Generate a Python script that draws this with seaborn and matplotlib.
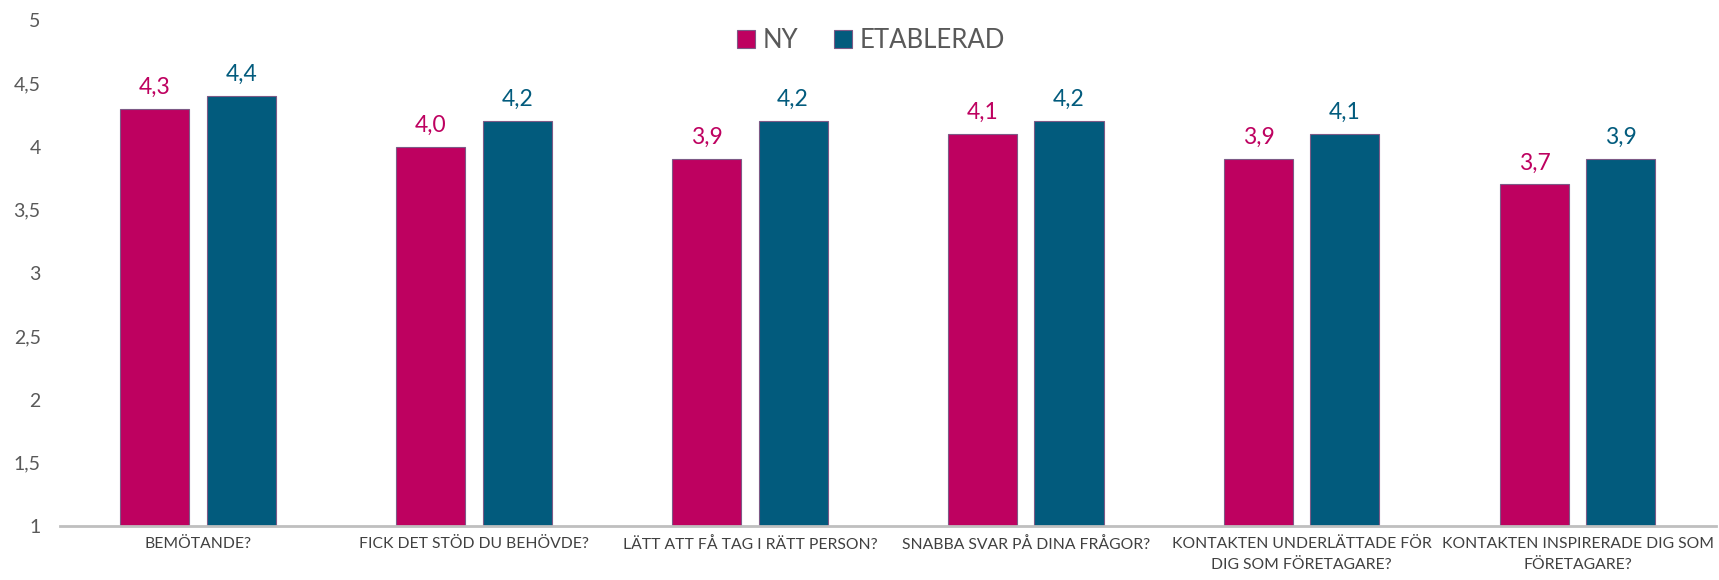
import pandas as pd
import matplotlib.pyplot as plt
import seaborn as sns

categories = [
    "BEMÖTANDE?",
    "FICK DET STÖD DU BEHÖVDE?",
    "LÄTT ATT FÅ TAG I RÄTT PERSON?",
    "SNABBA SVAR PÅ DINA FRÅGOR?",
    "KONTAKTEN UNDERLÄTTADE FÖR\nDIG SOM FÖRETAGARE?",
    "KONTAKTEN INSPIRERADE DIG SOM\nFÖRETAGARE?",
]
ny = [4.3, 4.0, 3.9, 4.1, 3.9, 3.7]
etablerad = [4.4, 4.2, 4.2, 4.2, 4.1, 3.9]
series = ["NY", "ETABLERAD"]
y_ticks = [1, 1.5, 2, 2.5, 3, 3.5, 4, 4.5, 5]

pink = "#BE0160"
teal = "#025B7D"

df = pd.DataFrame({
    "Fråga": categories * 2,
    "Värde": ny + etablerad,
    "Grupp": [series[0]] * len(ny) + [series[1]] * len(etablerad),
})

sns.set_style("white")
plt.rcParams["font.family"] = ["Lato", "DejaVu Sans"]

fig = plt.figure(figsize=(17.19, 5.8), dpi=100)
ax = fig.add_axes([0.035, 0.093, 0.963, 0.8725])

sns.barplot(
    data=df, x="Fråga", y="Värde", hue="Grupp",
    palette=[pink, teal], saturation=1, width=0.626, gap=0.2,
    edgecolor="#7d5a86", linewidth=0.8, ax=ax,
)

# value labels with decimal comma
for cont, col in zip(ax.containers, [pink, teal]):
    labels = [f"{v:.1f}".replace(".", ",") for v in cont.datavalues]
    ax.bar_label(cont, labels=labels, padding=8, color=col, fontsize=16.5)

ax.set_ylim(1, 5)
ax.set_xlim(-0.5, len(categories) - 0.5)
ax.set_yticks(y_ticks)
ax.set_yticklabels([str(t).replace(".", ",") for t in y_ticks])
ax.tick_params(axis="y", labelsize=14, colors="#595959", length=0, pad=14)
ax.tick_params(axis="x", labelsize=11.3, colors="#404040", length=0, pad=8)
for lbl in ax.get_xticklabels():
    lbl.set_linespacing(1.6)
ax.set_xlabel("")
ax.set_ylabel("")

for s in ["top", "right", "left"]:
    ax.spines[s].set_visible(False)
ax.spines["bottom"].set_color("#BFBFBF")
ax.spines["bottom"].set_linewidth(2)

ax.legend(
    loc="upper center", bbox_to_anchor=(0.49, 1.03), ncol=2, frameon=False,
    fontsize=18.5, labelcolor="#595959", handlelength=0.7, handleheight=0.7,
    handletextpad=0.3, columnspacing=1.4,
)

plt.savefig("out.png", dpi=100)
